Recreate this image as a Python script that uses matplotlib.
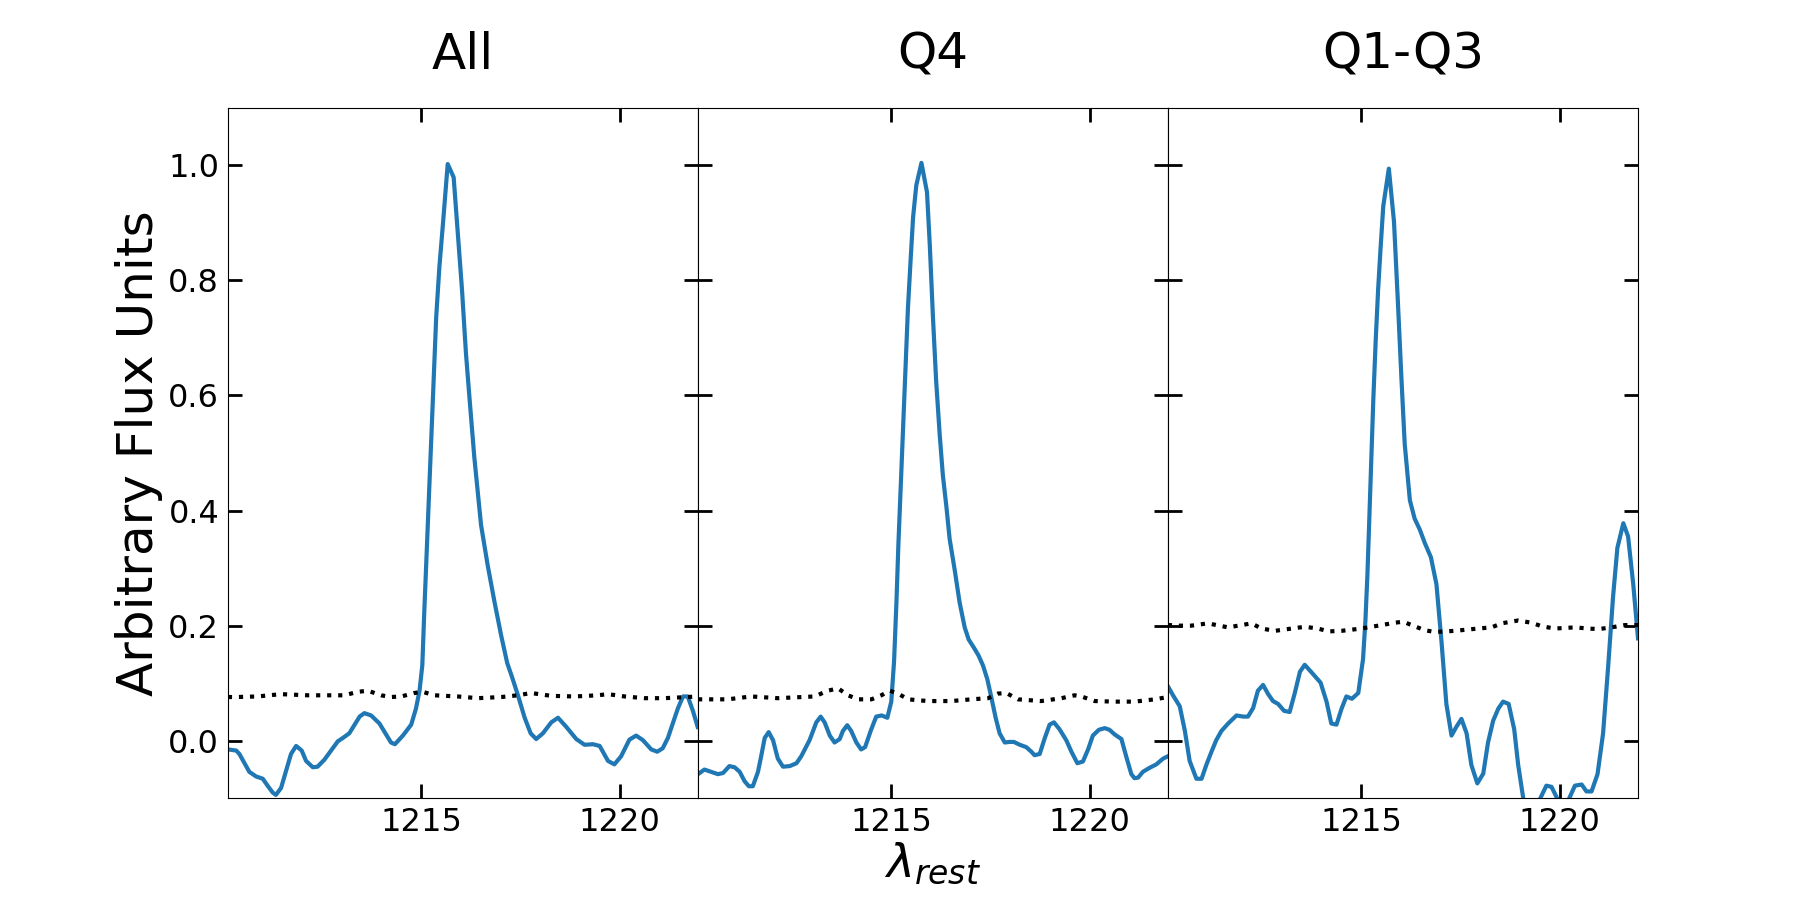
import numpy as np
import matplotlib
matplotlib.use("Agg")
from matplotlib import pyplot as plt

# ---------------- data ----------------
panel_titles = ["All", "Q4", "Q1-Q3"]

all_wave = [1210.13, 1210.34, 1210.42, 1210.67, 1210.84, 1211.01, 1211.13, 1211.26, 1211.34, 1211.47,
            1211.72, 1211.85, 1211.99, 1212.10, 1212.27, 1212.39, 1212.56, 1212.73, 1212.90, 1213.03,
            1213.19, 1213.45, 1213.57, 1213.74, 1213.95, 1214.24, 1214.34, 1214.54, 1214.75, 1214.87,
            1214.96, 1215.03, 1215.08, 1215.14, 1215.20, 1215.26, 1215.32, 1215.38, 1215.46, 1215.55,
            1215.67, 1215.82, 1215.92, 1216.03, 1216.13, 1216.22, 1216.34, 1216.51, 1216.68, 1216.85,
            1217.02, 1217.17, 1217.29, 1217.44, 1217.61, 1217.76, 1217.90, 1218.07, 1218.28, 1218.45,
            1218.66, 1218.91, 1219.12, 1219.33, 1219.50, 1219.71, 1219.87, 1220.04, 1220.25, 1220.42,
            1220.59, 1220.80, 1220.95, 1221.09, 1221.22, 1221.47, 1221.60, 1221.72, 1221.85, 1221.97]
all_flux = [-0.015, -0.017, -0.023, -0.054, -0.062, -0.066, -0.078, -0.090, -0.094, -0.082,
            -0.023, -0.009, -0.017, -0.035, -0.046, -0.045, -0.033, -0.017, -0.001, 0.005,
            0.013, 0.042, 0.048, 0.044, 0.030, -0.003, -0.006, 0.009, 0.028, 0.056,
            0.087, 0.131, 0.225, 0.327, 0.430, 0.532, 0.634, 0.736, 0.823, 0.898,
            1.002, 0.979, 0.886, 0.784, 0.673, 0.595, 0.493, 0.375, 0.304, 0.241,
            0.182, 0.135, 0.111, 0.079, 0.040, 0.013, 0.003, 0.013, 0.032, 0.040,
            0.024, 0.003, -0.007, -0.006, -0.009, -0.035, -0.041, -0.027, 0.002, 0.009,
            0.001, -0.015, -0.019, -0.013, 0.005, 0.056, 0.077, 0.077, 0.052, 0.024]
all_noise_wave = [1210.13, 1210.34, 1210.88, 1211.47, 1212.14, 1213.07, 1213.40, 1213.66, 1213.99, 1214.24,
                  1214.50, 1214.83, 1215.04, 1215.34, 1215.92, 1216.43, 1217.02, 1217.44, 1217.77, 1218.28,
                  1218.87, 1219.45, 1219.71, 1220.13, 1220.63, 1221.13, 1221.72, 1221.97]
all_noise = [0.076, 0.076, 0.077, 0.081, 0.079, 0.079, 0.085, 0.087, 0.079, 0.076,
             0.077, 0.083, 0.085, 0.079, 0.077, 0.074, 0.076, 0.079, 0.083, 0.078,
             0.077, 0.079, 0.081, 0.077, 0.074, 0.074, 0.076, 0.077]

q4_wave = [1210.13, 1210.29, 1210.46, 1210.63, 1210.76, 1210.92, 1211.05, 1211.18, 1211.30, 1211.41,
           1211.51, 1211.64, 1211.72, 1211.81, 1211.91, 1212.02, 1212.14, 1212.27, 1212.44, 1212.61,
           1212.73, 1212.94, 1213.11, 1213.22, 1213.32, 1213.45, 1213.57, 1213.70, 1213.78, 1213.89,
           1213.99, 1214.12, 1214.24, 1214.34, 1214.48, 1214.62, 1214.76, 1214.90, 1215.00, 1215.07,
           1215.13, 1215.18, 1215.24, 1215.30, 1215.36, 1215.42, 1215.49, 1215.55, 1215.63, 1215.76,
           1215.90, 1215.97, 1216.05, 1216.13, 1216.22, 1216.30, 1216.39, 1216.47, 1216.60, 1216.72,
           1216.85, 1216.95, 1217.08, 1217.20, 1217.31, 1217.42, 1217.52, 1217.63, 1217.73, 1217.86,
           1217.98, 1218.09, 1218.24, 1218.40, 1218.53, 1218.61, 1218.74, 1218.87, 1218.99, 1219.10,
           1219.24, 1219.41, 1219.54, 1219.69, 1219.83, 1219.96, 1220.08, 1220.23, 1220.38, 1220.50,
           1220.63, 1220.80, 1220.92, 1221.05, 1221.13, 1221.22, 1221.34, 1221.51, 1221.68, 1221.85,
           1221.97]
q4_flux = [-0.058, -0.050, -0.054, -0.058, -0.056, -0.044, -0.046, -0.054, -0.070, -0.079,
           -0.079, -0.054, -0.027, 0.005, 0.015, 0.001, -0.031, -0.045, -0.044, -0.039,
           -0.027, 0.001, 0.032, 0.042, 0.032, 0.009, -0.003, 0.003, 0.017, 0.027,
           0.017, -0.003, -0.015, -0.011, 0.017, 0.042, 0.044, 0.040, 0.068, 0.138,
           0.241, 0.343, 0.445, 0.548, 0.650, 0.752, 0.839, 0.910, 0.965, 1.004,
           0.953, 0.862, 0.736, 0.626, 0.532, 0.461, 0.406, 0.351, 0.296, 0.241,
           0.197, 0.176, 0.162, 0.148, 0.131, 0.107, 0.076, 0.040, 0.013, -0.003,
           -0.002, -0.002, -0.007, -0.011, -0.019, -0.025, -0.023, 0.005, 0.028, 0.032,
           0.020, 0.001, -0.019, -0.039, -0.036, -0.015, 0.009, 0.019, 0.022, 0.019,
           0.011, 0.003, -0.027, -0.058, -0.065, -0.064, -0.054, -0.047, -0.041, -0.031,
           -0.027]
q4_noise_wave = [1210.13, 1210.88, 1211.47, 1212.14, 1213.07, 1213.40, 1213.66, 1213.91, 1214.16, 1214.50,
                 1214.75, 1214.96, 1215.17, 1215.42, 1215.92, 1216.51, 1217.02, 1217.44, 1217.69, 1217.90,
                 1218.19, 1218.78, 1219.29, 1219.62, 1219.79, 1220.13, 1220.63, 1221.13, 1221.64, 1221.97]
q4_noise = [0.072, 0.072, 0.077, 0.074, 0.077, 0.087, 0.091, 0.079, 0.072, 0.072,
            0.079, 0.087, 0.082, 0.072, 0.069, 0.069, 0.072, 0.074, 0.082, 0.083,
            0.072, 0.069, 0.074, 0.079, 0.077, 0.069, 0.068, 0.068, 0.072, 0.076]

q13_wave = [1210.12, 1210.25, 1210.42, 1210.55, 1210.67, 1210.84, 1210.97, 1211.09, 1211.22, 1211.34,
            1211.47, 1211.64, 1211.85, 1212.02, 1212.14, 1212.27, 1212.39, 1212.52, 1212.65, 1212.77,
            1212.90, 1213.05, 1213.19, 1213.32, 1213.45, 1213.57, 1213.74, 1213.97, 1214.12, 1214.24,
            1214.37, 1214.50, 1214.62, 1214.76, 1214.92, 1215.04, 1215.10, 1215.15, 1215.20, 1215.25,
            1215.30, 1215.36, 1215.42, 1215.48, 1215.55, 1215.69, 1215.82, 1215.92, 1216.01, 1216.09,
            1216.22, 1216.34, 1216.47, 1216.60, 1216.75, 1216.89, 1217.02, 1217.14, 1217.27, 1217.39,
            1217.52, 1217.65, 1217.77, 1217.92, 1218.07, 1218.19, 1218.32, 1218.45, 1218.57, 1218.71,
            1218.85, 1218.95, 1219.08, 1219.20, 1219.37, 1219.50, 1219.66, 1219.79, 1219.94, 1220.08,
            1220.23, 1220.38, 1220.55, 1220.67, 1220.80, 1220.95, 1221.09, 1221.22, 1221.34, 1221.45,
            1221.60, 1221.72, 1221.85, 1221.97]
q13_flux = [0.095, 0.079, 0.060, 0.017, -0.035, -0.066, -0.066, -0.042, -0.019, 0.001,
            0.017, 0.030, 0.044, 0.042, 0.042, 0.057, 0.087, 0.097, 0.081, 0.069,
            0.064, 0.052, 0.050, 0.083, 0.120, 0.132, 0.119, 0.101, 0.068, 0.030,
            0.028, 0.056, 0.077, 0.073, 0.083, 0.142, 0.209, 0.288, 0.390, 0.493,
            0.595, 0.697, 0.784, 0.854, 0.929, 0.994, 0.902, 0.760, 0.626, 0.516,
            0.418, 0.386, 0.367, 0.343, 0.319, 0.272, 0.170, 0.064, 0.009, 0.024,
            0.038, 0.013, -0.042, -0.074, -0.057, -0.003, 0.035, 0.056, 0.068, 0.064,
            0.020, -0.042, -0.101, -0.160, -0.145, -0.101, -0.078, -0.080, -0.101, -0.137,
            -0.101, -0.078, -0.076, -0.088, -0.088, -0.058, 0.013, 0.131, 0.249, 0.335,
            0.378, 0.355, 0.272, 0.178]
q13_noise_wave = [1210.12, 1210.17, 1210.38, 1210.71, 1211.13, 1211.64, 1212.23, 1212.48, 1212.82, 1213.24,
                  1213.57, 1213.91, 1214.16, 1214.50, 1215.00, 1215.42, 1215.84, 1216.05, 1216.30, 1216.60,
                  1216.85, 1217.35, 1217.94, 1218.28, 1218.53, 1218.95, 1219.29, 1219.54, 1219.87, 1220.38,
                  1220.71, 1220.97, 1221.30, 1221.64, 1221.97]
q13_noise = [0.201, 0.201, 0.200, 0.200, 0.204, 0.197, 0.204, 0.195, 0.191, 0.195,
             0.198, 0.195, 0.190, 0.191, 0.195, 0.200, 0.205, 0.207, 0.200, 0.192,
             0.189, 0.191, 0.195, 0.197, 0.204, 0.209, 0.205, 0.199, 0.195, 0.197,
             0.195, 0.194, 0.197, 0.201, 0.201]

waves = [all_wave, q4_wave, q13_wave]
fluxes = [all_flux, q4_flux, q13_flux]
noise_waves = [all_noise_wave, q4_noise_wave, q13_noise_wave]
noises = [all_noise, q4_noise, q13_noise]

x_ticks = [1215, 1220]
y_ticks = [0.0, 0.2, 0.4, 0.6, 0.8, 1.0]

# ---------------- figure ----------------
fig, axes = plt.subplots(1, 3, sharey=True, figsize=(18.2, 8.97), dpi=100)
fig.subplots_adjust(left=0.125, right=0.9, top=0.88, bottom=0.11, wspace=0)

for i, ax in enumerate(axes):
    ax.plot(waves[i], fluxes[i], color="#1f77b4", lw=3)
    ax.plot(noise_waves[i], noises[i], color="black", ls=":", lw=3)
    ax.set_xlim(1210.12, 1221.97)
    ax.set_ylim(-0.1, 1.1)
    ax.set_xticks(x_ticks)
    ax.set_yticks(y_ticks)
    ax.tick_params(direction="in", top=True, right=True, length=10, width=2,
                   labelsize=23, pad=6)
    ax.set_title(panel_titles[i], fontsize=36, pad=28)

axes[0].set_ylabel("Arbitrary Flux Units", fontsize=36)
axes[1].set_xlabel(r"$\lambda_{rest}$", fontsize=34, labelpad=2)

plt.savefig("out.png", dpi=100)
